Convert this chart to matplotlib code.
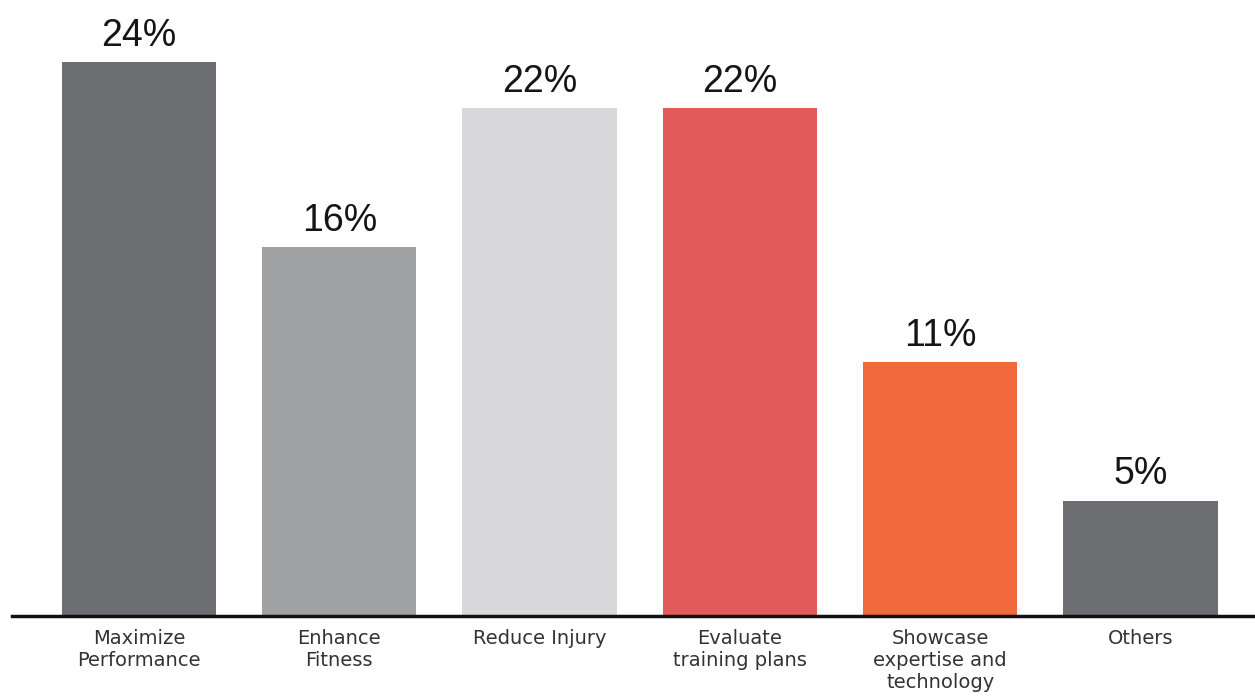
import matplotlib
matplotlib.use('Agg')
from matplotlib import pyplot as plt

# survey shares by purpose
categories = ['Maximize\nPerformance', 'Enhance\nFitness', 'Reduce Injury',
              'Evaluate\ntraining plans', 'Showcase\nexpertise and\ntechnology', 'Others']
shares = [24, 16, 22, 22, 11, 5]
colors = ['#6d6e72', '#a0a1a3', '#d8d8da', '#e35a5b', '#f06a3b', '#6d6e72']

fig = plt.figure(figsize=(12.55, 7), dpi=100)
ax = fig.add_axes([12 / 1255, 84 / 700, 1243 / 1255, 616 / 700])

x = list(range(len(categories)))
bars = ax.bar(x, shares, width=0.77, color=colors, zorder=2)

for xi, v in zip(x, shares):
    ax.annotate(f'{v}%', (xi, v), xytext=(0, 6), textcoords='offset points',
                ha='center', va='bottom', fontsize=27, family='Liberation Sans',
                color='#151515')

ax.set_xlim(-0.634, 5.572)
ax.set_ylim(0, 26.7)
ax.set_xticks(x)
ax.set_xticklabels(categories, fontsize=14, family='DejaVu Sans', color='#333333',
                   linespacing=1.2, va='top')
ax.tick_params(axis='x', length=0, pad=9)
ax.set_yticks([])
for side in ['top', 'right', 'left']:
    ax.spines[side].set_visible(False)
ax.spines['bottom'].set_linewidth(2.5)
ax.spines['bottom'].set_color('#111111')

plt.savefig('out.png', dpi=100)
